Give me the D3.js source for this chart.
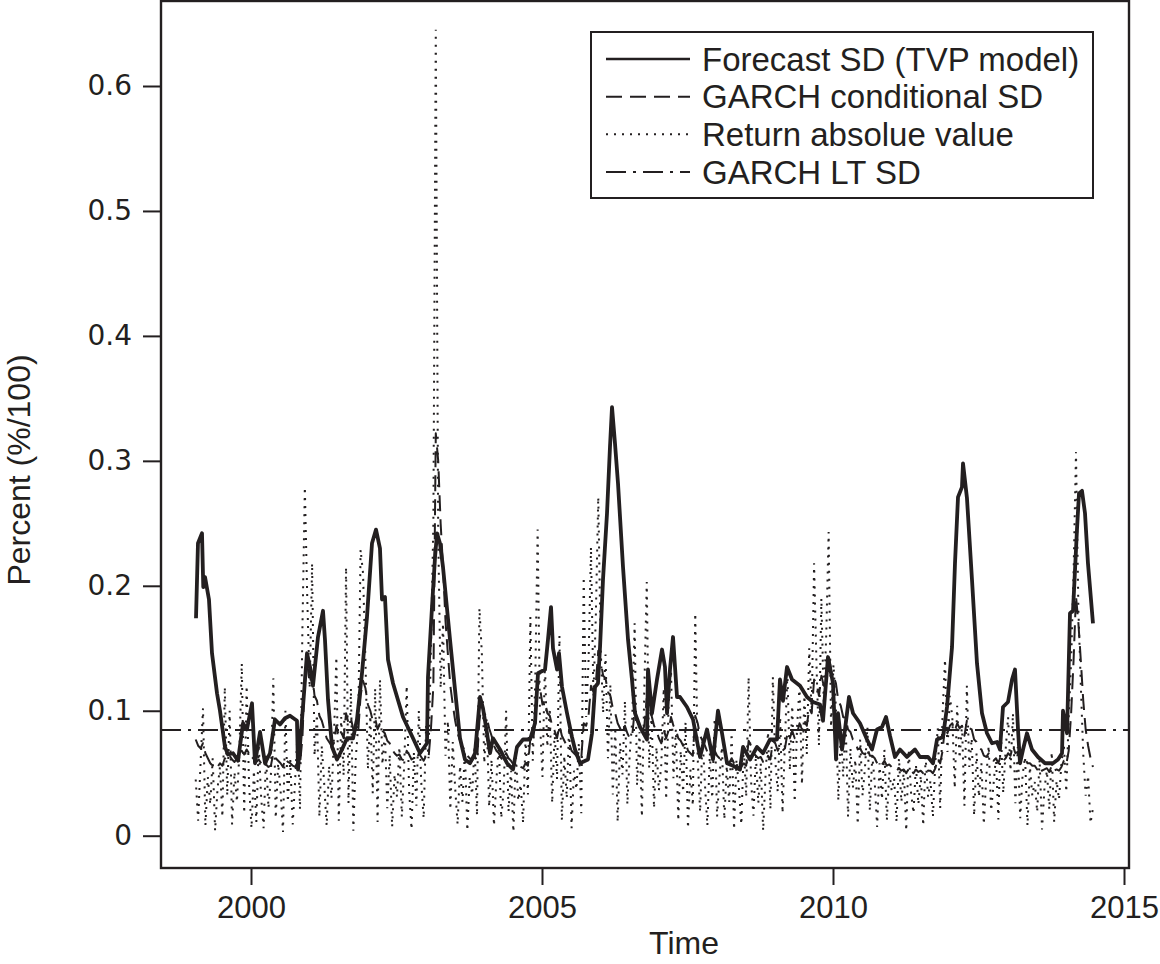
<!DOCTYPE html>
<html>
<head>
<meta charset="utf-8">
<script src="https://cdn.jsdelivr.net/npm/d3@7"></script>
<style>
  html, body { margin: 0; padding: 0; background: #fff; }
  svg { display: block; }
</style>
</head>
<body>
<svg id="chart" width="1160" height="964"></svg>
<script>
// ---------------- DATA ----------------
// Forecast SD (TVP model): decimal year / value
const tvpTime = [
  1999.055,1999.089,1999.158,1999.18,1999.21,1999.278,1999.33,1999.416,1999.467,1999.553,
  1999.605,1999.691,1999.777,1999.863,1999.93,2000.017,2000.069,2000.155,2000.241,2000.326,
  2000.412,2000.498,2000.584,2000.67,2000.79,2000.808,2000.893,2000.962,2001.014,2001.065,
  2001.151,2001.237,2001.271,2001.323,2001.392,2001.478,2001.564,2001.649,2001.753,2001.821,
  2001.907,2001.993,2002.079,2002.148,2002.216,2002.251,2002.302,2002.354,2002.44,2002.612,
  2002.784,2002.904,2003.024,2003.041,2003.11,2003.162,2003.196,2003.247,2003.299,2003.419,
  2003.505,2003.591,2003.677,2003.763,2003.849,2003.935,2003.986,2004.055,2004.107,2004.158,
  2004.278,2004.399,2004.502,2004.57,2004.674,2004.794,2004.88,2004.931,2005.052,2005.103,
  2005.155,2005.189,2005.258,2005.292,2005.344,2005.43,2005.515,2005.567,2005.653,2005.79,
  2005.859,2005.911,2005.962,2005.997,2006.048,2006.117,2006.168,2006.203,2006.254,2006.306,
  2006.392,2006.478,2006.546,2006.598,2006.684,2006.804,2006.821,2006.89,2006.976,2007.062,
  2007.113,2007.148,2007.199,2007.251,2007.32,2007.371,2007.491,2007.595,2007.715,2007.835,
  2007.938,2008.024,2008.093,2008.179,2008.282,2008.402,2008.454,2008.574,2008.694,2008.797,
  2008.918,2009.038,2009.089,2009.141,2009.21,2009.296,2009.433,2009.553,2009.656,2009.777,
  2009.828,2009.914,2010.0,2010.052,2010.086,2010.155,2010.206,2010.275,2010.344,2010.464,
  2010.584,2010.67,2010.756,2010.842,2010.911,2010.979,2011.065,2011.151,2011.271,2011.409,
  2011.495,2011.632,2011.718,2011.787,2011.89,2011.959,2012.045,2012.096,2012.148,2012.216,
  2012.234,2012.302,2012.388,2012.474,2012.56,2012.646,2012.732,2012.818,2012.869,2012.921,
  2013.007,2013.076,2013.127,2013.179,2013.213,2013.265,2013.333,2013.419,2013.522,2013.643,
  2013.78,2013.866,2013.935,2013.952,2014.021,2014.072,2014.124,2014.192,2014.227,2014.278,
  2014.33,2014.381,2014.467
];
const tvpSD = [
  0.174,0.234,0.242,0.199,0.207,0.189,0.146,0.114,0.100,0.071,
  0.065,0.066,0.060,0.090,0.085,0.106,0.058,0.083,0.058,0.066,
  0.093,0.089,0.094,0.096,0.092,0.053,0.103,0.146,0.135,0.120,
  0.159,0.180,0.157,0.109,0.071,0.061,0.069,0.078,0.078,0.093,
  0.130,0.175,0.234,0.245,0.230,0.189,0.191,0.141,0.122,0.095,
  0.078,0.066,0.074,0.127,0.183,0.223,0.242,0.234,0.215,0.157,
  0.117,0.078,0.061,0.058,0.066,0.111,0.102,0.082,0.066,0.078,
  0.069,0.058,0.053,0.071,0.077,0.077,0.090,0.130,0.133,0.157,
  0.183,0.150,0.133,0.146,0.119,0.098,0.079,0.069,0.058,0.061,
  0.082,0.119,0.122,0.151,0.205,0.258,0.311,0.343,0.314,0.282,
  0.215,0.157,0.125,0.098,0.087,0.077,0.133,0.098,0.125,0.149,
  0.135,0.098,0.133,0.159,0.111,0.111,0.103,0.093,0.063,0.085,
  0.061,0.100,0.082,0.058,0.056,0.053,0.071,0.061,0.071,0.066,
  0.077,0.077,0.125,0.108,0.135,0.125,0.120,0.111,0.107,0.105,
  0.092,0.143,0.122,0.061,0.098,0.069,0.085,0.111,0.098,0.090,
  0.077,0.069,0.085,0.087,0.095,0.080,0.063,0.069,0.063,0.069,
  0.063,0.063,0.058,0.077,0.079,0.103,0.151,0.218,0.271,0.279,
  0.298,0.270,0.205,0.138,0.098,0.082,0.074,0.075,0.069,0.103,
  0.107,0.125,0.133,0.085,0.058,0.069,0.082,0.069,0.063,0.058,
  0.058,0.061,0.066,0.100,0.082,0.178,0.180,0.245,0.274,0.276,
  0.258,0.218,0.170
];

// Half-monthly observations starting January 1999
const obsStart = 1999.05;
const obsPerYear = 24;

// GARCH conditional SD (one row per year of observations)
const garchSD = [
  0.077,0.072,0.070,0.074,0.066,0.062,0.058,0.056,0.054,0.055,0.058,0.056,0.062,0.060,0.064,0.061,0.059,0.062,0.060,0.068,0.065,0.069,0.066,0.061,
  0.063,0.059,0.061,0.058,0.055,0.057,0.055,0.056,0.066,0.062,0.060,0.058,0.055,0.062,0.059,0.058,0.056,0.055,0.059,0.057,0.078,0.128,0.138,0.122,
  0.130,0.112,0.108,0.096,0.092,0.085,0.078,0.075,0.072,0.074,0.088,0.080,0.083,0.078,0.098,0.090,0.094,0.085,0.080,0.083,0.112,0.124,0.118,0.105,
  0.100,0.092,0.094,0.085,0.090,0.084,0.082,0.076,0.074,0.069,0.066,0.064,0.065,0.061,0.060,0.068,0.065,0.061,0.062,0.060,0.066,0.063,0.060,0.064,
  0.062,0.085,0.120,0.322,0.300,0.250,0.215,0.172,0.145,0.120,0.105,0.092,0.082,0.076,0.071,0.069,0.064,0.062,0.060,0.064,0.060,0.092,0.106,0.098,
  0.095,0.086,0.080,0.072,0.068,0.066,0.062,0.060,0.066,0.062,0.060,0.057,0.058,0.056,0.055,0.054,0.058,0.056,0.078,0.075,0.090,0.125,0.118,0.105,
  0.108,0.098,0.096,0.088,0.084,0.078,0.088,0.080,0.076,0.072,0.074,0.068,0.066,0.064,0.066,0.062,0.090,0.088,0.096,0.120,0.115,0.122,0.148,0.140,
  0.128,0.126,0.115,0.112,0.102,0.098,0.090,0.086,0.082,0.088,0.082,0.078,0.080,0.100,0.092,0.088,0.082,0.088,0.110,0.100,0.096,0.088,0.084,0.078,
  0.074,0.085,0.078,0.084,0.095,0.088,0.085,0.078,0.076,0.072,0.075,0.068,0.066,0.064,0.096,0.090,0.080,0.076,0.072,0.067,0.066,0.063,0.068,0.064,
  0.062,0.063,0.060,0.060,0.058,0.062,0.058,0.059,0.058,0.055,0.058,0.056,0.076,0.072,0.066,0.064,0.062,0.063,0.059,0.058,0.064,0.061,0.076,0.074,
  0.068,0.072,0.068,0.070,0.082,0.078,0.084,0.078,0.082,0.090,0.085,0.092,0.088,0.102,0.098,0.125,0.122,0.112,0.128,0.120,0.126,0.145,0.132,0.128,
  0.122,0.108,0.104,0.095,0.094,0.085,0.083,0.077,0.075,0.069,0.070,0.066,0.065,0.070,0.064,0.064,0.062,0.058,0.060,0.057,0.060,0.056,0.057,0.055,
  0.055,0.052,0.054,0.052,0.053,0.050,0.054,0.052,0.050,0.053,0.051,0.052,0.050,0.054,0.052,0.052,0.050,0.054,0.062,0.058,0.068,0.088,0.082,0.088,
  0.090,0.084,0.090,0.086,0.088,0.080,0.092,0.086,0.085,0.077,0.075,0.070,0.069,0.064,0.063,0.066,0.061,0.060,0.062,0.058,0.064,0.060,0.062,0.066,
  0.064,0.072,0.066,0.067,0.062,0.061,0.062,0.058,0.058,0.056,0.056,0.053,0.056,0.052,0.053,0.054,0.051,0.056,0.052,0.053,0.052,0.055,0.060,0.057,
  0.068,0.098,0.140,0.192,0.170,0.140,0.108,0.085,0.072,0.062,0.055
];

// Return absolute value (one row per year of observations)
const absReturn = [
  0.045,0.012,0.058,0.102,0.008,0.047,0.025,0.062,0.004,0.038,0.055,0.015,0.119,0.032,0.100,0.009,0.051,0.027,0.066,0.138,0.018,0.120,0.041,0.006,
  0.052,0.011,0.073,0.030,0.006,0.064,0.022,0.048,0.126,0.014,0.058,0.036,0.003,0.100,0.027,0.061,0.009,0.044,0.083,0.021,0.165,0.279,0.190,0.118,
  0.218,0.064,0.097,0.015,0.072,0.041,0.008,0.056,0.030,0.079,0.143,0.012,0.095,0.048,0.215,0.026,0.118,0.004,0.062,0.088,0.229,0.210,0.140,0.053,
  0.096,0.034,0.118,0.011,0.125,0.057,0.083,0.022,0.065,0.007,0.049,0.031,0.071,0.015,0.058,0.120,0.036,0.005,0.067,0.024,0.100,0.043,0.014,0.088,
  0.062,0.150,0.250,0.645,0.240,0.118,0.170,0.064,0.092,0.021,0.075,0.038,0.009,0.056,0.027,0.068,0.004,0.047,0.033,0.072,0.016,0.182,0.146,0.058,
  0.094,0.023,0.061,0.008,0.045,0.072,0.014,0.037,0.100,0.019,0.052,0.003,0.066,0.028,0.041,0.010,0.078,0.033,0.175,0.060,0.122,0.245,0.090,0.047,
  0.138,0.071,0.102,0.026,0.083,0.045,0.160,0.012,0.064,0.030,0.089,0.006,0.052,0.037,0.074,0.018,0.207,0.095,0.140,0.231,0.112,0.176,0.271,0.150,
  0.098,0.145,0.062,0.121,0.033,0.087,0.011,0.074,0.049,0.108,0.025,0.066,0.092,0.170,0.040,0.083,0.015,0.118,0.203,0.054,0.097,0.022,0.071,0.036,
  0.057,0.118,0.029,0.104,0.132,0.046,0.085,0.012,0.068,0.035,0.091,0.006,0.053,0.024,0.178,0.062,0.019,0.079,0.041,0.008,0.066,0.030,0.094,0.015,
  0.048,0.071,0.013,0.056,0.027,0.082,0.005,0.061,0.038,0.009,0.072,0.031,0.127,0.044,0.016,0.065,0.026,0.058,0.004,0.049,0.083,0.021,0.127,0.060,
  0.035,0.095,0.018,0.076,0.130,0.052,0.104,0.027,0.088,0.120,0.041,0.112,0.065,0.150,0.098,0.218,0.136,0.072,0.190,0.105,0.160,0.243,0.087,0.137,
  0.102,0.028,0.084,0.047,0.093,0.015,0.070,0.038,0.061,0.009,0.077,0.032,0.055,0.087,0.020,0.064,0.043,0.007,0.058,0.029,0.069,0.012,0.051,0.036,
  0.046,0.011,0.062,0.027,0.053,0.004,0.069,0.034,0.018,0.057,0.025,0.048,0.008,0.063,0.031,0.044,0.015,0.059,0.086,0.022,0.098,0.141,0.067,0.112,
  0.095,0.038,0.104,0.062,0.089,0.024,0.120,0.055,0.078,0.016,0.066,0.031,0.058,0.009,0.047,0.072,0.020,0.041,0.063,0.013,0.085,0.034,0.069,0.095,
  0.052,0.098,0.026,0.071,0.014,0.049,0.063,0.008,0.055,0.032,0.043,0.019,0.061,0.005,0.038,0.052,0.021,0.067,0.011,0.044,0.029,0.058,0.073,0.035,
  0.095,0.140,0.210,0.307,0.180,0.120,0.065,0.032,0.048,0.010,0.022
];

// GARCH long-term SD
const garchLT = 0.0846;

const xTicks = [2000, 2005, 2010, 2015];
const yTicks = [0, 0.1, 0.2, 0.3, 0.4, 0.5, 0.6];
const yTickLabels = ["0", "0.1", "0.2", "0.3", "0.4", "0.5", "0.6"];
const legendLabels = ["Forecast SD (TVP model)", "GARCH conditional SD", "Return absolue value", "GARCH LT SD"];
const xTitle = "Time";
const yTitle = "Percent (%/100)";

// ---------------- DRAW ----------------
const ink = "#231f20";
const svg = d3.select("#chart");
const box = { left: 161, right: 1129, top: 1, bottom: 868 };

const x = d3.scaleLinear().domain([2000, 2015]).range([251, 1124]);
const y = d3.scaleLinear().domain([0, 0.6]).range([835.7, 86]);

svg.append("defs").append("clipPath").attr("id", "plotClip")
  .append("rect")
  .attr("x", box.left).attr("y", box.top)
  .attr("width", box.right - box.left).attr("height", box.bottom - box.top);

const plot = svg.append("g").attr("clip-path", "url(#plotClip)");

const styles = {
  tvp:   { width: 3.8, dash: null },
  garch: { width: 2.0, dash: "16,8" },
  ret:   { width: 2.0, dash: "2,6" },
  lt:    { width: 2.2, dash: "20,7,3,7" }
};

const tvpData = tvpTime.map((t, i) => [t, tvpSD[i]]);
const garchData = garchSD.map((v, i) => [obsStart + i / obsPerYear, v]);
const retData = absReturn.map((v, i) => [obsStart + i / obsPerYear, v]);

const line = d3.line().x(d => x(d[0])).y(d => y(d[1]));

plot.append("path").datum(retData)
  .attr("d", line).attr("fill", "none").attr("stroke", ink)
  .attr("stroke-width", styles.ret.width).attr("stroke-dasharray", styles.ret.dash)
  .attr("stroke-linecap", "butt");

plot.append("path").datum(garchData)
  .attr("d", line).attr("fill", "none").attr("stroke", ink)
  .attr("stroke-width", styles.garch.width).attr("stroke-dasharray", styles.garch.dash)
  .attr("stroke-linejoin", "round");

plot.append("path").datum(tvpData)
  .attr("d", line).attr("fill", "none").attr("stroke", ink)
  .attr("stroke-width", styles.tvp.width).attr("stroke-linejoin", "round");

plot.append("line")
  .attr("x1", box.left).attr("x2", box.right)
  .attr("y1", y(garchLT)).attr("y2", y(garchLT))
  .attr("stroke", ink).attr("stroke-width", styles.lt.width)
  .attr("stroke-dasharray", styles.lt.dash);

// Box
svg.append("rect")
  .attr("x", box.left).attr("y", box.top)
  .attr("width", box.right - box.left).attr("height", box.bottom - box.top)
  .attr("fill", "none").attr("stroke", ink).attr("stroke-width", 2.4);

// X axis
const xAxis = svg.append("g")
  .attr("transform", `translate(0,${box.bottom})`)
  .call(d3.axisBottom(x).tickValues(xTicks).tickSize(17).tickPadding(11).tickFormat(d3.format("d")));
xAxis.select(".domain").remove();
xAxis.selectAll(".tick line").attr("stroke", ink).attr("stroke-width", 2);
xAxis.selectAll(".tick text")
  .attr("fill", ink)
  .style("font-family", "'Liberation Sans', Arial, sans-serif")
  .style("font-size", "31px");

// Y axis
const yAxis = svg.append("g")
  .attr("transform", `translate(${box.left},0)`)
  .call(d3.axisLeft(y).tickValues(yTicks).tickSize(18).tickPadding(11)
    .tickFormat((d, i) => yTickLabels[i]));
yAxis.select(".domain").remove();
yAxis.selectAll(".tick line").attr("stroke", ink).attr("stroke-width", 2);
yAxis.selectAll(".tick text")
  .attr("fill", ink)
  .style("font-family", "'DejaVu Sans', sans-serif")
  .style("font-size", "28px");

// Axis titles
svg.append("text")
  .attr("x", 684).attr("y", 954)
  .attr("text-anchor", "middle").attr("fill", ink)
  .style("font-family", "'Liberation Sans', Arial, sans-serif")
  .style("font-size", "32px")
  .text(xTitle);

svg.append("text")
  .attr("transform", "translate(30,470) rotate(-90)")
  .attr("text-anchor", "middle").attr("fill", ink)
  .style("font-family", "'Liberation Sans', Arial, sans-serif")
  .style("font-size", "32px")
  .text(yTitle);

// Legend
const legend = svg.append("g");
legend.append("rect")
  .attr("x", 591).attr("y", 32).attr("width", 502).attr("height", 166)
  .attr("fill", "#fff").attr("stroke", ink).attr("stroke-width", 2);

const legendStyles = [styles.tvp, styles.garch, styles.ret, styles.lt];
const legendWidths = [2.4, 2.0, 2.0, 2.2];
const rowY = d3.scalePoint().domain(d3.range(legendLabels.length)).range([59, 172]);

legendLabels.forEach((lab, i) => {
  const yy = rowY(i);
  legend.append("line")
    .attr("x1", 606).attr("x2", 690).attr("y1", yy).attr("y2", yy)
    .attr("stroke", ink).attr("stroke-width", legendWidths[i])
    .attr("stroke-dasharray", legendStyles[i].dash);
  legend.append("text")
    .attr("x", 702).attr("y", yy)
    .attr("dy", "0.35em").attr("fill", ink)
    .style("font-family", "'Liberation Sans', Arial, sans-serif")
    .style("font-size", "33px")
    .text(lab);
});
</script>
</body>
</html>
